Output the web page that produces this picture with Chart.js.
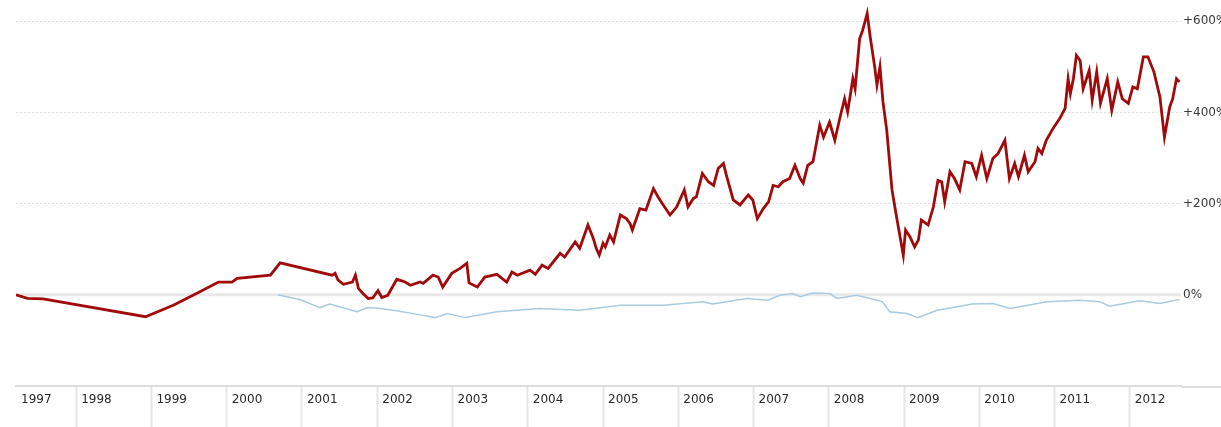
<!DOCTYPE html>
<html>
<head>
<meta charset="utf-8">
<script src="https://cdn.jsdelivr.net/npm/chart.js@4/dist/chart.umd.min.js"></script>
<style>
  html, body { margin: 0; padding: 0; background: #ffffff; overflow: hidden; }
  #wrap { position: relative; width: 1221px; height: 427px; }
</style>
</head>
<body>
<div id="wrap"><canvas id="c"></canvas></div>
<script>
// ---- Data (decimal year, % change) ----
const xStart = 1997.2;
const xEnd = 2012.68;
const yearTicks = [1998, 1999, 2000, 2001, 2002, 2003, 2004, 2005, 2006, 2007, 2008, 2009, 2010, 2011, 2012];
const pctTicks = [0, 200, 400, 600];

const redDates = [
  1997.20,1997.35,1997.56,1998.92,1999.29,1999.65,1999.89,2000.07,2000.14,2000.58,2000.71,
  2001.40,2001.44,2001.48,2001.55,2001.67,2001.71,2001.75,2001.81,2001.88,2001.94,2002.01,2002.06,2002.14,
  2002.26,2002.37,2002.44,2002.57,2002.61,2002.74,2002.81,2002.87,2002.99,2003.10,2003.19,2003.22,2003.33,
  2003.43,2003.59,2003.72,2003.79,2003.86,2004.03,2004.10,2004.19,2004.27,
  2004.43,2004.49,2004.63,2004.69,2004.80,2004.87,2004.91,2004.95,2005.00,2005.03,2005.09,2005.14,2005.23,
  2005.31,2005.36,2005.39,2005.49,2005.57,2005.67,2005.73,2005.80,2005.89,2005.98,2006.08,2006.13,2006.20,
  2006.24,2006.32,2006.40,2006.47,2006.53,2006.60,2006.64,2006.73,2006.82,2006.93,2006.99,2007.05,2007.13,
  2007.20,2007.26,2007.33,2007.39,2007.48,2007.55,2007.62,
  2007.66,2007.72,2007.79,2007.88,2007.93,2008.01,2008.08,2008.15,2008.21,2008.25,2008.32,2008.35,2008.41,
  2008.45,2008.51,2008.55,2008.61,2008.64,2008.68,2008.72,2008.77,2008.84,2008.90,
  2008.99,2009.02,2009.08,2009.14,2009.19,2009.23,2009.32,2009.39,2009.45,2009.50,2009.54,2009.61,2009.67,
  2009.74,2009.81,2009.90,2009.96,2010.03,2010.10,2010.18,2010.25,2010.34,2010.40,2010.47,2010.52,2010.60,
  2010.65,2010.74,2010.78,2010.83,2010.89,2010.98,2011.07,2011.14,2011.18,2011.21,2011.25,2011.29,2011.34,
  2011.38,2011.46,2011.50,2011.56,2011.61,2011.70,2011.76,2011.84,2011.90,2011.98,2012.04,2012.10,2012.18,
  2012.24,2012.32,2012.40,2012.46,2012.53,2012.57,2012.62,2012.66];
const redValues = [
  0,-8,-9,-48,-23,7,28,28,36,43,70,
  43,47,32,23,28,43,14,3,-8,-7,9,-6,-1,
  34,28,21,28,25,43,39,17,47,58,69,26,17,
  39,45,28,50,43,54,45,65,58,
  91,83,116,102,153,124,102,87,113,105,131,116,175,
  167,156,142,189,186,233,215,197,175,193,230,193,211,
  215,266,248,240,277,288,262,208,197,219,208,167,189,
  204,240,237,248,255,284,255,
  245,284,292,372,346,379,339,390,430,401,474,452,562,
  580,617,566,500,460,500,423,361,230,171,
  87,142,127,105,120,164,153,193,251,248,204,270,255,
  230,292,288,259,306,255,299,310,339,255,288,259,306,
  270,292,321,310,339,365,387,409,474,441,474,525,514,
  452,492,427,489,420,474,405,467,430,420,456,452,522,
  522,489,434,346,412,430,474,467];

const blueDates = [2000.68,2000.98,2001.24,2001.37,2001.73,2001.87,2002.04,2002.26,2002.57,2002.77,2002.93,
  2003.17,2003.59,2004.16,2004.69,2005.23,2005.80,2006.33,2006.46,2006.91,2007.19,2007.35,2007.52,2007.62,
  2007.79,2008.01,2008.11,2008.37,2008.55,2008.71,2008.81,2009.04,2009.18,2009.44,2009.91,2010.18,2010.41,
  2010.90,2011.34,2011.60,2011.73,2012.13,2012.40,2012.66];
const blueValues = [0,-11,-28,-20,-37,-28,-30,-35,-44,-50,-41,
  -50,-37,-30,-34,-23,-23,-15,-20,-8,-12,-1,3,-4,
  4,3,-8,-1,-8,-15,-37,-41,-50,-34,-20,-19,-30,
  -15,-12,-15,-25,-13,-19,-10];

const toPoints = (xs, ys) => xs.map((x, i) => ({ x: x, y: ys[i] }));

const extrasPlugin = {
  id: 'extras',
  beforeDatasetsDraw(chart) {
    const { ctx, chartArea, scales } = chart;
    const y0 = scales.y.getPixelForValue(0);
    ctx.save();
    ctx.strokeStyle = '#e9e9e9';
    ctx.lineWidth = 3;
    ctx.beginPath();
    ctx.moveTo(chartArea.left, y0);
    ctx.lineTo(chartArea.right, y0);
    ctx.stroke();
    ctx.restore();
  },
  afterDraw(chart) {
    const { ctx, chartArea } = chart;
    ctx.save();
    ctx.strokeStyle = '#dedede';
    ctx.lineWidth = 2;
    ctx.beginPath();
    ctx.moveTo(chartArea.right, chartArea.bottom + 1);
    ctx.lineTo(chart.width, chartArea.bottom + 1);
    ctx.stroke();
    ctx.restore();
  }
};

const labelFont = { family: 'DejaVu Sans, Verdana, sans-serif', size: 12 };

new Chart(document.getElementById('c'), {
  type: 'line',
  data: {
    datasets: [
      {
        label: 'Red',
        data: toPoints(redDates, redValues),
        borderColor: '#a10a0a',
        borderWidth: 2.8,
        pointRadius: 0,
        tension: 0,
        fill: false
      },
      {
        label: 'Blue',
        data: toPoints(blueDates, blueValues),
        borderColor: '#a9cbe0',
        borderWidth: 1.5,
        pointRadius: 0,
        tension: 0,
        fill: false
      }
    ]
  },
  options: {
    responsive: true,
    maintainAspectRatio: false,
    animation: false,
    layout: { padding: { left: 16, top: 3, right: 0, bottom: 0 } },
    plugins: { legend: { display: false }, tooltip: { enabled: false } },
    scales: {
      x: {
        type: 'linear',
        min: xStart,
        max: xEnd,
        afterBuildTicks: (s) => { s.ticks = [xStart].concat(yearTicks).map(v => ({ value: v })); },
        afterFit: (s) => { s.height = 41; s.paddingLeft = 0; s.paddingRight = 0; },
        ticks: {
          autoSkip: false,
          maxRotation: 0,
          align: 'start',
          labelOffset: 5,
          padding: -34,
          color: '#2a2a2a',
          font: labelFont,
          callback: (v) => String(Math.floor(v))
        },
        grid: {
          drawOnChartArea: false,
          drawTicks: true,
          tickLength: 41,
          tickWidth: 2,
          tickColor: (ctx) => (ctx.index === 0 ? 'rgba(0,0,0,0)' : '#e6e6e6')
        },
        border: { display: true, color: '#dedede', width: 2 }
      },
      y: {
        type: 'linear',
        position: 'right',
        min: -200,
        max: 640,
        afterBuildTicks: (s) => { s.ticks = pctTicks.map(v => ({ value: v })); },
        afterFit: (s) => { s.width = 40; s.paddingTop = 0; s.paddingBottom = 0; },
        ticks: {
          padding: 2,
          color: '#3a3a3a',
          font: labelFont,
          callback: (v) => (v === 0 ? '0%' : '+' + v + '%')
        },
        grid: {
          drawTicks: false,
          color: '#dcdcdc',
          lineWidth: 1
        },
        border: { display: false, dash: [2, 2] }
      }
    }
  },
  plugins: [extrasPlugin]
});
</script>
</body>
</html>
